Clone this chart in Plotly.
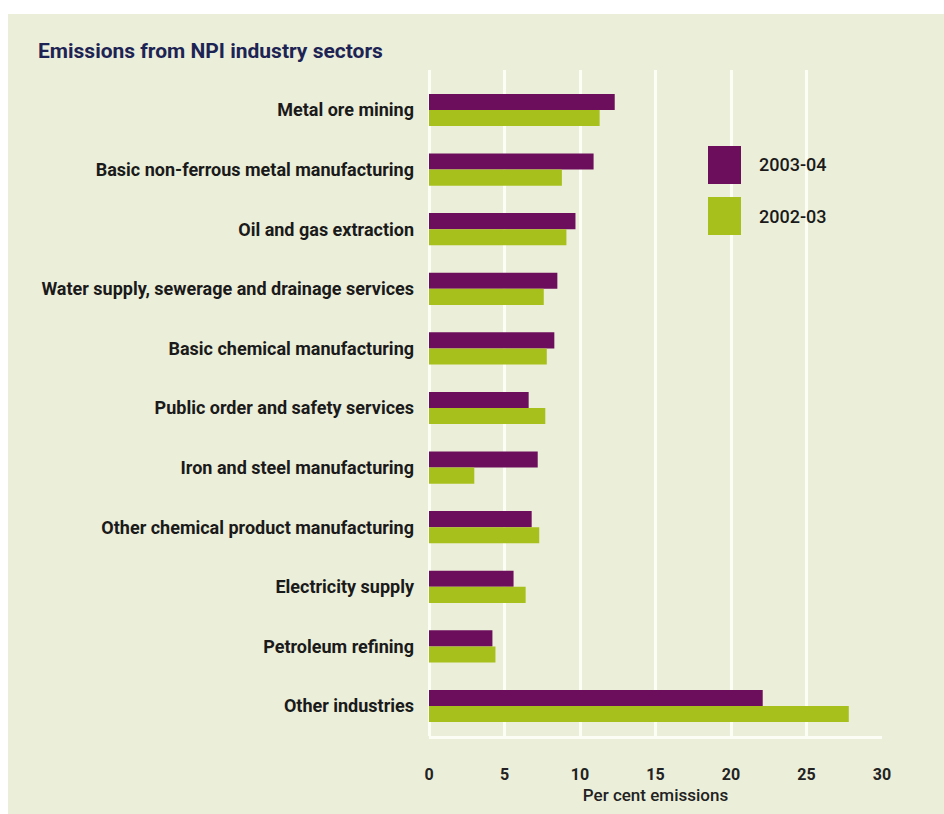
import plotly.graph_objects as go

categories = [
    "Metal ore mining",
    "Basic non-ferrous metal manufacturing",
    "Oil and gas extraction",
    "Water supply, sewerage and drainage services",
    "Basic chemical manufacturing",
    "Public order and safety services",
    "Iron and steel manufacturing",
    "Other chemical product manufacturing",
    "Electricity supply",
    "Petroleum refining",
    "Other industries",
]
values_2003_04 = [12.3, 10.9, 9.7, 8.5, 8.3, 6.6, 7.2, 6.8, 5.6, 4.2, 22.1]
values_2002_03 = [11.3, 8.8, 9.1, 7.6, 7.8, 7.7, 3.0, 7.3, 6.4, 4.4, 27.8]
series_names = ["2003-04", "2002-03"]
x_ticks = [0, 5, 10, 15, 20, 25, 30]

PURPLE = "#6c0e5c"
GREEN = "#a8c01b"
BEIGE = "#ebeed9"
GRID = "#fcfdf5"
FONT = "Roboto, Arial, sans-serif"

fig = go.Figure()
fig.add_trace(go.Bar(y=categories, x=values_2003_04, orientation="h",
                     name=series_names[0], marker=dict(color=PURPLE, line=dict(width=0))))
fig.add_trace(go.Bar(y=categories, x=values_2002_03, orientation="h",
                     name=series_names[1], marker=dict(color=GREEN, line=dict(width=0))))

W, H = 944, 814
L, R, T, B = 429, 62, 70, 78

fig.update_layout(
    width=W, height=H,
    margin=dict(l=L, r=R, t=T, b=B, pad=0),
    paper_bgcolor="white",
    plot_bgcolor=BEIGE,
    barmode="group",
    bargap=0.46,
    bargroupgap=0,
    showlegend=False,
    font=dict(family=FONT, color="#222222"),
    xaxis=dict(
        range=[0, 30], tickvals=x_ticks, ticktext=[str(v) for v in x_ticks],
        showgrid=True, gridcolor=GRID, gridwidth=3,
        zeroline=True, zerolinecolor=GRID, zerolinewidth=3,
        showline=True, linecolor=GRID, linewidth=3,
        ticks="", ticklabelstandoff=22,
        tickfont=dict(size=16, family=FONT, color="#222222", weight="bold"),
        title=dict(text="Per cent emissions", standoff=6,
                   font=dict(size=17, family=FONT, color="#222222", weight=500)),
        fixedrange=True,
    ),
    yaxis=dict(
        categoryorder="array", categoryarray=categories,
        range=[10.503, -0.671],
        showgrid=False, zeroline=False, showline=False,
        ticks="", ticklabelstandoff=14,
        tickfont=dict(size=18, family=FONT, color="#1a1a1a", weight="bold"),
        fixedrange=True,
    ),
)

# beige panel behind everything (page background)
fig.add_shape(type="rect", xref="paper", yref="paper",
              x0=-(L - 8) / (W - L - R), x1=(W - L) / (W - L - R),
              y0=-(B) / (H - T - B), y1=(H - 14 - B) / (H - T - B),
              fillcolor=BEIGE, line=dict(width=0), layer="below")

# legend backdrop hiding the 20 and 25 gridlines
fig.add_shape(type="rect", xref="x", yref="paper",
              x0=16.6, x1=28.5, y0=(736 - 318) / (H - T - B), y1=1.0,
              fillcolor=BEIGE, line=dict(width=0), layer="between")

# legend (custom, large swatches)
legend_colors = [PURPLE, GREEN]
legend_top = [146, 197]
for name, col, top in zip(series_names, legend_colors, legend_top):
    y1 = (H - B - top) / (H - T - B)
    y0 = (H - B - top - 38) / (H - T - B)
    fig.add_shape(type="rect", xref="paper", yref="paper",
                  x0=(708 - L) / (W - L - R), x1=(741 - L) / (W - L - R),
                  y0=y0, y1=y1, fillcolor=col, line=dict(width=0), layer="above")
    fig.add_annotation(xref="paper", yref="paper",
                       x=(757 - L) / (W - L - R), y=(y0 + y1) / 2,
                       xanchor="left", yanchor="middle", showarrow=False,
                       text=name, font=dict(size=18, family=FONT, color="#1a1a1a", weight=500))

# title
fig.add_annotation(xref="paper", yref="paper",
                   x=-(L - 36) / (W - L - R), y=(H - B - 51) / (H - T - B),
                   xanchor="left", yanchor="middle", showarrow=False,
                   text="<b>Emissions from NPI industry sectors</b>",
                   font=dict(size=21, family=FONT, color="#1d2454"))

fig.write_html("out.html")
